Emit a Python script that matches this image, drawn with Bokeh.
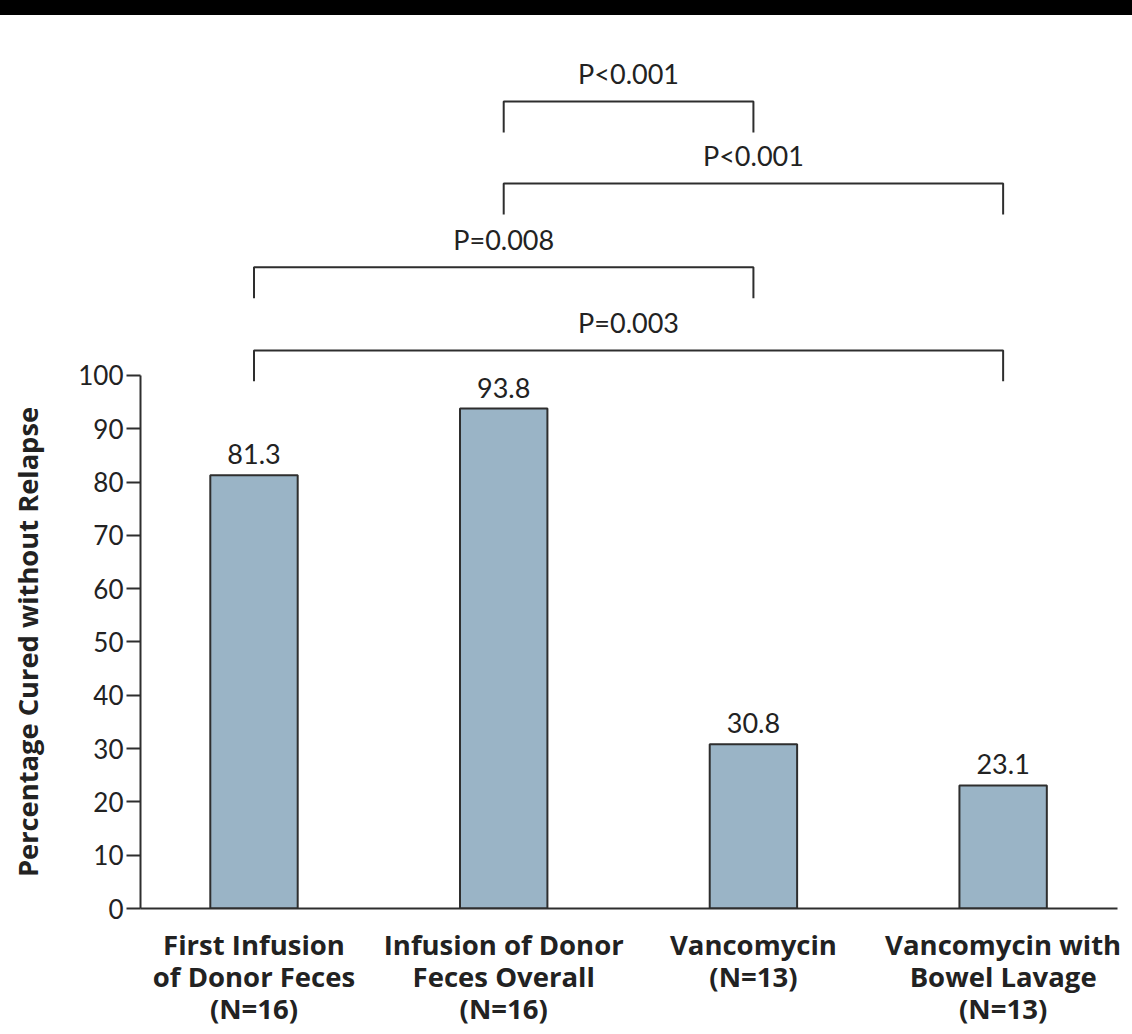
import math
from bokeh.plotting import figure
from bokeh.layouts import column, row
from bokeh.models import Range1d, FixedTicker, Div
from bokeh.core.properties import value
from bokeh.embed import file_html
from bokeh.resources import INLINE

# ---- data ----
categories = [
    "First Infusion\nof Donor Feces\n(N=16)",
    "Infusion of Donor\nFeces Overall\n(N=16)",
    "Vancomycin\n(N=13)",
    "Vancomycin with\nBowel Lavage\n(N=13)",
]
cured_pct = [81.3, 93.8, 30.8, 23.1]
y_ticks = [0, 10, 20, 30, 40, 50, 60, 70, 80, 90, 100]
y_title = "Percentage Cured without Relapse"
comp_left = [1, 1, 0, 0]
comp_right = [2, 3, 2, 3]
comp_p = ["P<0.001", "P<0.001", "P=0.008", "P=0.003"]
comp_level = [151.4, 136.0, 120.3, 104.7]

FONT = "Lato"
BOLD_FONT = "Open Sans"
TXT = "#222222"
LINE = "#2e2e2e"
BAR = "#9ab4c6"

x_idx = list(range(len(categories)))
Y_END = 167.54
FRAME_H = 893

band = Div(width=1132, height=15, margin=0, styles={"background-color": "black"})

# narrow panel holding the rotated y-axis title
tp = figure(frame_width=48, frame_height=FRAME_H, toolbar_location=None,
            output_backend="svg", min_border=0, margin=0,
            x_range=Range1d(0, 48), y_range=Range1d(0, Y_END))
tp.axis.visible = False
tp.grid.visible = False
tp.outline_line_color = None
tp.text(x=[27], y=[50], text=[y_title], angle=math.pi / 2,
        text_font=value(BOLD_FONT), text_font_style="bold", text_font_size="27.3px",
        text_color=TXT, text_align="center", text_baseline="middle")

p = figure(frame_width=977, frame_height=FRAME_H, toolbar_location=None,
           output_backend="svg", margin=0,
           x_range=Range1d(-0.4545, 3.458), y_range=Range1d(0, Y_END),
           min_border_left=92, min_border_right=15, min_border_top=0,
           min_border_bottom=10)
p.outline_line_color = None
p.grid.visible = False

p.vbar(x=x_idx, top=cured_pct, width=0.35, bottom=0,
       fill_color=BAR, line_color=LINE, line_width=2)

p.text(x=x_idx, y=cured_pct, text=[f"{v:.1f}" for v in cured_pct],
       text_font=value(FONT), text_font_size="27px", text_color=TXT,
       text_align="center", text_baseline="middle", y_offset=-21)

# comparison brackets
drop = 5.8
xs, ys = [], []
for l, r, lv in zip(comp_left, comp_right, comp_level):
    xs.append([l, l, r, r])
    ys.append([lv - drop, lv, lv, lv - drop])
p.multi_line(xs=xs, ys=ys, line_color=LINE, line_width=2)
p.text(x=[(l + r) / 2 for l, r in zip(comp_left, comp_right)],
       y=[lv + 5.3 for lv in comp_level], text=comp_p,
       text_font=value(FONT), text_font_size="27px", text_color=TXT,
       text_align="center", text_baseline="middle")

# axes
ya = p.yaxis[0]
ya.ticker = FixedTicker(ticks=y_ticks)
ya.bounds = (0, 100)
ya.major_tick_out = 14
ya.major_tick_in = 0
ya.minor_tick_line_color = None
ya.axis_line_width = 2
ya.axis_line_color = LINE
ya.major_tick_line_width = 2
ya.major_tick_line_color = LINE
ya.major_label_text_font = FONT
ya.major_label_text_font_size = "26px"
ya.major_label_text_color = TXT
ya.major_label_standoff = 3

xa = p.xaxis[0]
xa.ticker = FixedTicker(ticks=x_idx)
xa.major_label_overrides = {i: c for i, c in zip(x_idx, categories)}
xa.major_tick_out = 0
xa.major_tick_in = 0
xa.minor_tick_line_color = None
xa.axis_line_width = 2
xa.axis_line_color = LINE
xa.major_label_text_font = BOLD_FONT
xa.major_label_text_font_style = "bold"
xa.major_label_text_font_size = "27.5px"
xa.major_label_text_line_height = 0.87
xa.major_label_text_color = TXT
xa.major_label_standoff = 17

layout = column(band, row(tp, p, spacing=0, margin=0), spacing=0, margin=0)
open("out.html", "w").write(file_html(layout, INLINE))
